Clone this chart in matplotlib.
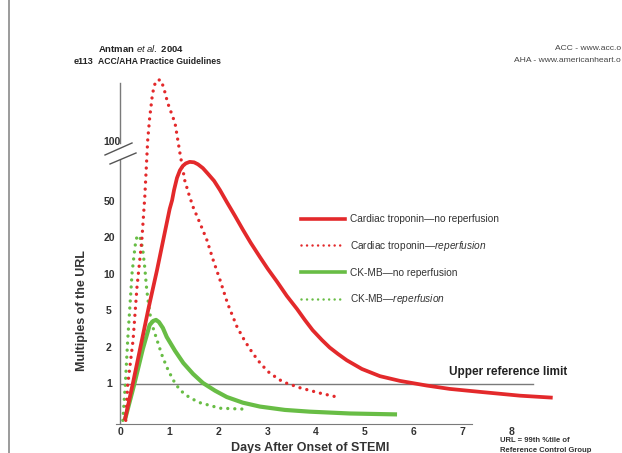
import numpy as np
import matplotlib
matplotlib.use('Agg')
import matplotlib.pyplot as plt
from matplotlib import font_manager
from matplotlib.lines import Line2D
import matplotlib.transforms as mtransforms

# fonts: condensed bold look if available
names = {f.name for f in font_manager.fontManager.ttflist}
narrow = 'Liberation Sans Narrow' if 'Liberation Sans Narrow' in names else 'Liberation Sans'
plt.rcParams['font.family'] = ['Liberation Sans', 'DejaVu Sans']
plt.rcParams['mathtext.fontset'] = 'custom'
plt.rcParams['mathtext.it'] = 'Liberation Sans:italic'
plt.rcParams['mathtext.rm'] = 'Liberation Sans'

# --- data (days after onset, multiples of URL) ---
trop_days = [0.08, 0.25, 0.41, 0.57, 0.74, 0.90, 1.00, 1.05, 1.09, 1.15, 1.21, 1.27,
             1.33, 1.41, 1.50, 1.58, 1.68, 1.78, 1.91, 2.03, 2.17, 2.34, 2.50, 2.66,
             2.85, 3.01, 3.20, 3.40, 3.61, 3.77, 3.93, 4.12, 4.28, 4.45, 4.63, 4.94,
             5.31, 5.72, 6.27, 6.74, 7.36, 8.18, 8.85]
trop_vals = [0.50, 1.03, 2.13, 5.36, 10.9, 23.2, 41.9, 51, 57.4, 66, 72, 75.8,
             78, 79.4, 79, 77.2, 73.9, 69.4, 63.8, 57.4, 50, 35.1, 24.9, 18.4,
             14.0, 11.2, 8.77, 6.69, 5.21, 4.01, 3.10, 2.42, 2.0, 1.77, 1.57, 1.33,
             1.16, 1.06, 0.97, 0.91, 0.86, 0.80, 0.77]

trop_rep_days = [0.10, 0.14, 0.25, 0.33, 0.43, 0.49, 0.55, 0.59, 0.64, 0.68, 0.74,
                 0.82, 0.88, 0.96, 1.11, 1.21, 1.31, 1.39, 1.48, 1.62, 1.76, 1.89,
                 2.03, 2.19, 2.38, 2.54, 2.70, 2.87, 3.05, 3.32, 3.67, 4.08, 4.49]
trop_rep_vals = [0.50, 0.98, 2.42, 7.9, 19.5, 53, 103.5, 158, 247, 328, 380,
                 380, 310, 213, 143, 88, 64, 55, 44, 29.4, 19.5, 13.3,
                 9.1, 5.74, 3.37, 2.36, 1.80, 1.46, 1.23, 1.04, 0.93, 0.84, 0.77]

ckmb_days = [0.08, 0.27, 0.45, 0.59, 0.66, 0.72, 0.78, 0.86, 0.94, 1.11, 1.28,
             1.48, 1.68, 1.93, 2.17, 2.50, 2.85, 3.36, 3.87, 4.69, 5.66]
ckmb_vals = [0.50, 0.98, 1.95, 3.53, 3.90, 4.01, 3.80, 3.28, 2.61, 1.88, 1.49,
             1.21, 1.02, 0.88, 0.78, 0.70, 0.65, 0.61, 0.59, 0.57, 0.56]

ckmb_rep_days = [0.04, 0.09, 0.14, 0.23, 0.27, 0.30, 0.33, 0.37, 0.41, 0.45, 0.49,
                 0.53, 0.59, 0.66, 0.74, 0.84, 0.94, 1.07, 1.21, 1.41, 1.62, 2.03,
                 2.50]
ckmb_rep_vals = [0.50, 0.98, 2.42, 10.4, 14.5, 18.3, 20.9, 21.5, 19.5, 16.0, 11.4,
                 7.5, 4.8, 3.28, 2.42, 1.74, 1.38, 1.08, 0.89, 0.77, 0.70, 0.63,
                 0.62]

ytick_vals = [1, 2, 5, 10, 20, 50, 100]
xtick_vals = [0, 1, 2, 3, 4, 5, 6, 7, 8]
url_level = 1

labels = ['Cardiac troponin\u2014no reperfusion',
          'Cardiac troponin\u2014$\\it{reperfusion}$',
          'CK-MB\u2014no reperfusion',
          'CK-MB\u2014$\\it{reperfusion}$']

# 1-2-5 "ordinal" y axis with a break above 50
anchor_vals = np.log10([0.2, 0.5, 1, 2, 5, 10, 20, 50, 100, 200, 500, 1000])
anchor_pos = np.array([-2, -1, 0, 1, 2, 3, 4, 5, 6.65, 7.65, 8.65, 9.65])


def fwd(v):
    v = np.clip(np.asarray(v, dtype=float), 1e-3, None)
    return np.interp(np.log10(v), anchor_vals, anchor_pos)


def inv(p):
    return 10 ** np.interp(np.asarray(p, dtype=float), anchor_pos, anchor_vals)


RED = '#e3292b'
GREEN = '#68bd45'
GREY = '#7a7a7a'
TXT = '#333333'

W, H = 622, 453
fig = plt.figure(figsize=(W / 100, H / 100), dpi=100)
ax = fig.add_axes([116 / W, (H - 424) / H, 444 / W, 348 / H])
ax.set_yscale('function', functions=(fwd, inv))
ax.set_xlim(-0.1, 9.0)
ax.set_ylim(float(inv(-1.1)), float(inv(8.46)))

ax.plot(trop_days, trop_vals, color=RED, lw=2.7, solid_capstyle='butt',
        solid_joinstyle='round', clip_on=False, zorder=4)
ax.plot(trop_rep_days, trop_rep_vals, color=RED, lw=2.4, linestyle=(0, (0.01, 2.1)),
        dash_capstyle='round', clip_on=False, zorder=4)
ax.plot(ckmb_days, ckmb_vals, color=GREEN, lw=3.0, solid_capstyle='butt',
        solid_joinstyle='round', zorder=3)
ax.plot(ckmb_rep_days, ckmb_rep_vals, color=GREEN, lw=2.4, linestyle=(0, (0.01, 2.1)),
        dash_capstyle='round', zorder=3)

# upper reference limit
ax.plot([0, 8.44], [url_level, url_level], color=GREY, lw=1.0, zorder=2)
ax.text(7.93, 1.13, 'Upper reference limit', ha='center', va='bottom',
        fontsize=8.5, fontweight='bold', family=narrow, color='#222222')

# axes: spines and ticks
for s in ['top', 'right', 'left']:
    ax.spines[s].set_visible(False)
ax.spines['bottom'].set_bounds(-0.1, 7.2)
ax.spines['bottom'].set_color(GREY)
ax.axvline(-0.02, ymin=0, ymax=0.759, color=GREY, lw=1.0)
ax.axvline(-0.02, ymin=0.807, ymax=0.98, color=GREY, lw=1.0)
ax.set_xticks(xtick_vals)
ax.set_xticklabels([str(v) for v in xtick_vals], fontsize=7.5, fontweight='bold',
                   family=narrow, color=TXT)
ax.tick_params(axis='x', length=0, pad=2)
ax.set_yticks([])
ax.yaxis.set_minor_locator(matplotlib.ticker.NullLocator())

ytr = mtransforms.blended_transform_factory(fig.transFigure, ax.transData)
for v in ytick_vals:
    xpx = 111.5 if v == 100 else 109
    ax.text(xpx / W, v, str(v), transform=ytr, ha='center', va='center',
            fontsize=7.5, fontweight='bold', family=narrow, color=TXT)

# axis break marks
for (x0, y0, x1, y1) in [(105, 155, 132, 143), (110, 164, 136, 153)]:
    fig.add_artist(Line2D([x0 / W, x1 / W], [1 - y0 / H, 1 - y1 / H],
                          transform=fig.transFigure, color='#555555', lw=1.0))

ax.set_xlabel('Days After Onset of STEMI', fontsize=9, fontweight='bold',
              family=narrow, color=TXT)
ax.xaxis.set_label_coords((310 - 116) / 444, -(442 - 424) / 348)
ax.set_ylabel('Multiples of the URL', fontsize=9, fontweight='bold',
              family=narrow, color=TXT)
ax.yaxis.set_label_coords((88 - 116) / 444, (424 - 311) / 348)

# legend
handles = [Line2D([], [], color=RED, lw=2.6),
           Line2D([], [], color=RED, lw=1.8, linestyle=(0, (0.01, 2.2)), dash_capstyle='round'),
           Line2D([], [], color=GREEN, lw=2.6),
           Line2D([], [], color=GREEN, lw=1.8, linestyle=(0, (0.01, 2.2)), dash_capstyle='round')]
leg = ax.legend(handles, labels, loc='upper left', bbox_to_anchor=(292 / W, 1 - 205 / H),
                bbox_transform=fig.transFigure, frameon=False, fontsize=7.3,
                handlelength=4.3, handletextpad=0.5, labelspacing=1.45)
for t in leg.get_texts():
    t.set_color(TXT)

# page header
fig.text(98 / W, 1 - 49 / H, 'Antman $\\it{et\\ al.}$ 2004', fontsize=6.8, fontweight='bold',
         family=narrow, va='center', color='#222222')
fig.text(98 / W, 1 - 61 / H, 'ACC/AHA Practice Guidelines', fontsize=6.2, fontweight='bold',
         family=narrow, va='center', color='#222222')
fig.text(74 / W, 1 - 61 / H, 'e113', fontsize=6.5, fontweight='bold',
         family=narrow, va='center', color='#222222')
fig.text(621 / W, 1 - 49 / H, 'ACC - www.acc.o', fontsize=6.1, family=narrow,
         ha='right', va='center', color='#444444')
fig.text(621 / W, 1 - 60 / H, 'AHA - www.americanheart.o', fontsize=6.1, family=narrow,
         ha='right', va='center', color='#444444')

# footnote
fig.text(500 / W, 1 - 440 / H, 'URL = 99th %tile of', fontsize=5.5, fontweight='bold',
         family=narrow, va='center', color=TXT)
fig.text(500 / W, 1 - 450 / H, 'Reference Control Group', fontsize=5.5, fontweight='bold',
         family=narrow, va='center', color=TXT)

# page edge
fig.add_artist(Line2D([9 / W, 9 / W], [0, 1], transform=fig.transFigure,
                      color='#8a8a8a', lw=1.2))

fig.savefig('out.png', dpi=100)
